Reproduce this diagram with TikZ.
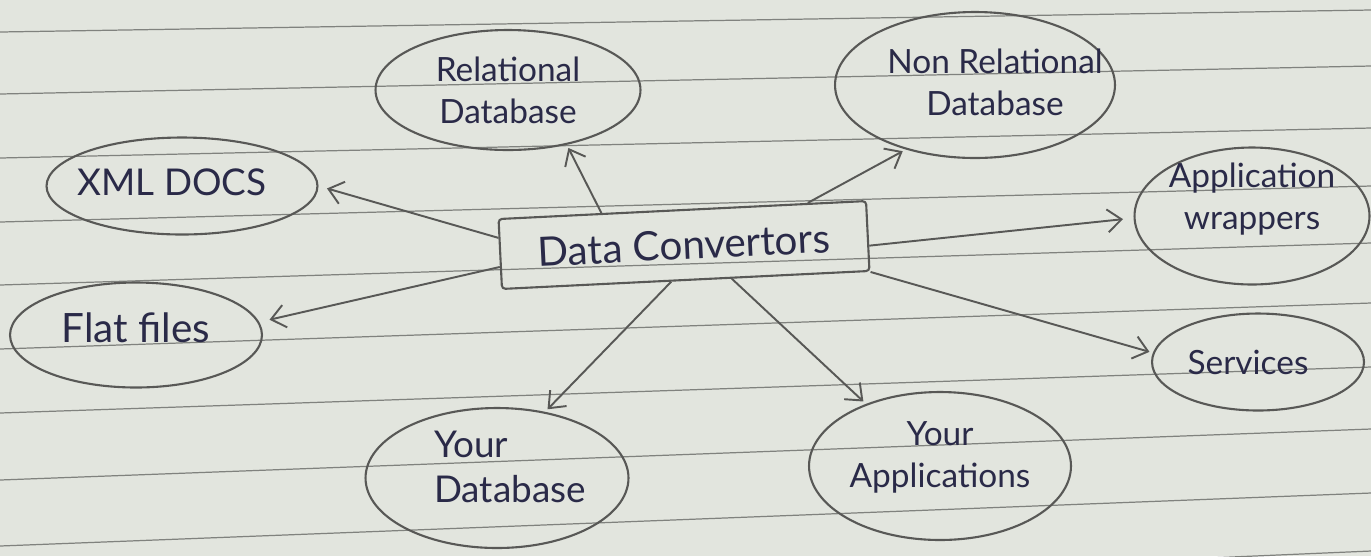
\documentclass[tikz,border=0pt]{standalone}
\usepackage{fontspec}
\setmainfont{Lato}
\usetikzlibrary{arrows.meta,shapes.geometric}

\definecolor{paper}{RGB}{226,229,222}
\definecolor{ruling}{RGB}{128,130,126}
\definecolor{pencil}{RGB}{88,88,86}
\definecolor{ink}{RGB}{42,42,72}

\begin{document}
\begin{tikzpicture}[x=0.02cm, y=-0.02cm,
  blob/.style={ellipse, draw=pencil, line width=1.2pt, inner sep=0pt},
  txt/.style={text=ink, font=\fontsize{19}{24}\selectfont, align=center},
  link/.style={draw=pencil, line width=1.1pt, -{Straight Barb[length=8pt,width=13pt]}, shorten >=2pt}]

 % Ruled paper
 \clip (0,0) rectangle (1371,556);
 \fill[paper] (0,0) rectangle (1371,556);
 \foreach \l/\r in {32/10, 94/66, 158/128, 222/186, 285/243, 349/303, 413/367, 480/429, 546/493, 610/551}
  \draw[ruling, line width=0.7pt] (0,\l) -- (1371,\r);

 % Centre box
 \node[draw=pencil, line width=1.2pt, rounded corners=2pt, rotate=2.8,
  minimum width=7.36cm, minimum height=1.4cm, txt, font=\fontsize{23}{28}\selectfont]
  (conv) at (684,245) {Data Convertors};

 % Targets
 \node[blob, minimum width=5.3cm, minimum height=2.4cm,
  label={[txt]center:{Relational\\Database}}] (rel) at (508,90) {};
 \node[blob, minimum width=5.6cm, minimum height=2.92cm,
  label={[txt, xshift=0.4cm, yshift=0.06cm]center:{Non Relational\\Database}}] (nonrel) at (975,85) {};
 \node[blob, minimum width=5.42cm, minimum height=1.94cm,
  label={[txt, font=\fontsize{21}{26}\selectfont, xshift=-0.2cm, yshift=0.08cm]center:{XML DOCS}}] (xml) at (182,186) {};
 \node[blob, minimum width=5.04cm, minimum height=2.1cm,
  label={[txt, font=\fontsize{23}{28}\selectfont, yshift=0.14cm]center:{Flat files}}] (flat) at (136,335) {};
 \node[blob, minimum width=4.7cm, minimum height=2.74cm,
  label={[txt, yshift=0.34cm]center:{Application\\wrappers}}] (wrap) at (1252,216) {};
 \node[blob, minimum width=4.24cm, minimum height=1.94cm,
  label={[txt, xshift=-0.2cm]center:{Services}}] (serv) at (1258,362) {};
 \node[blob, minimum width=5.26cm, minimum height=2.8cm,
  label={[txt, align=left, font=\fontsize{21}{26}\selectfont, xshift=0.26cm, yshift=0.22cm]center:{Your\\Database}}] (ydb) at (497,478) {};
 \node[blob, minimum width=5.24cm, minimum height=2.96cm,
  label={[txt, yshift=0.18cm]center:{Your\\Applications}}] (yapp) at (940,466) {};

 % Arrows out of the box
 \draw[link] (conv.156) -- (rel.-43);
 \draw[link] (conv.16) -- (nonrel.-137);
 \draw[link, shorten >=6pt] (conv.-3) -- (wrap.181);
 \draw[link] (conv.south east) -- (serv.175);
 \draw[link] (conv.-38) -- (yapp.140);
 \draw[link] (conv.-112) -- (ydb.54);
 \draw[link, shorten >=6pt] (conv.184) -- (flat.6);
 \draw[link, shorten >=5pt] (conv.175) -- (xml.0);
\end{tikzpicture}
\end{document}
